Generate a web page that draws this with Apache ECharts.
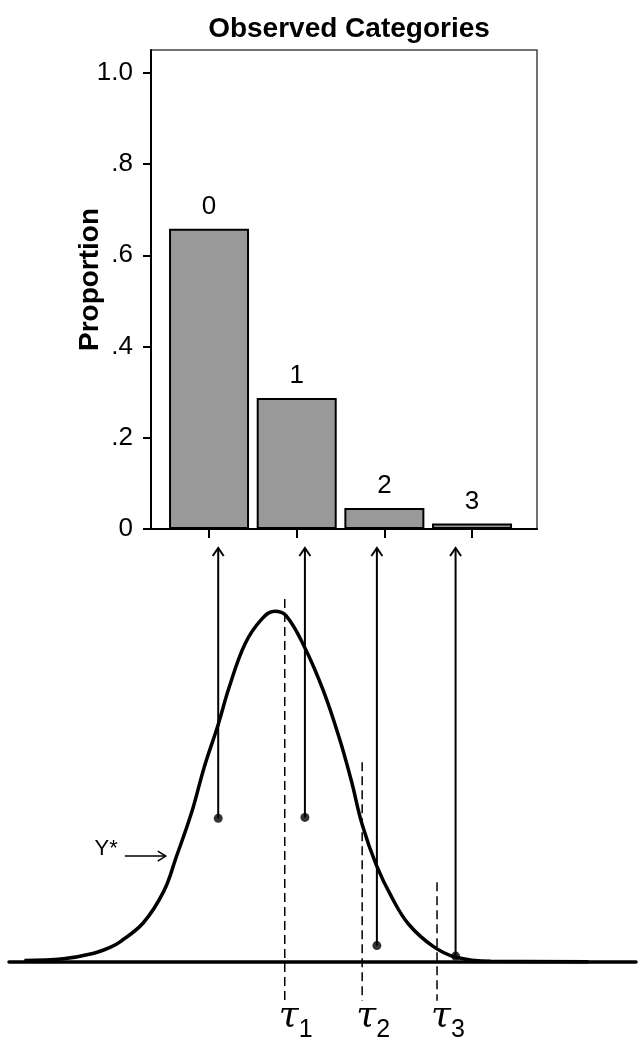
<!DOCTYPE html>
<html>
<head>
<meta charset="utf-8">
<script src="https://cdn.jsdelivr.net/npm/echarts@6/dist/echarts.min.js"></script>
<style>
  html, body { margin: 0; padding: 0; background: #fff; }
  #chart { width: 642px; height: 1050px; }
</style>
</head>
<body>
<div id="chart"></div>
<script>
// top panel: observed category proportions
var categories = ['0', '1', '2', '3']
var proportions = [0.658, 0.287, 0.046, 0.012]
var yTicks = [0, 0.2, 0.4, 0.6, 0.8, 1.0]

// bottom panel: latent Y* density
var curveX = [-3.91, -3.3, -2.84, -2.57, -2.42, -2.05, -1.73, -1.54, -1.29, -1.1, -0.88, -0.71, -0.46, -0.2, 0, 0.18, 0.47, 0.76, 1.01, 1.2, 1.37, 1.59, 1.84, 2.1, 2.48, 2.82, 3.38, 4.91]
var curveY = [0.002, 0.004, 0.010, 0.017, 0.023, 0.045, 0.081, 0.119, 0.172, 0.222, 0.271, 0.313, 0.363, 0.391, 0.4, 0.395, 0.359, 0.31, 0.256, 0.207, 0.157, 0.111, 0.073, 0.043, 0.018, 0.006, 0.001, 0.0005]

// thresholds tau1..tau3
var tauNames = ['1', '2', '3']
var tauX = [0.16, 1.37, 2.54]
var tauTop = [0.414, 0.228, 0.091]
var tauBottom = -0.044

// draws from Y* that map to each category
var drawX = [-0.88, 0.475, 1.6, 2.83]
var drawY = [0.164, 0.165, 0.019, 0.007]
var arrowTop = 0.472

// Y* pointer
var yStarLabel = 'Y*'
var yStarArrow = [-2.34, -1.70, 0.121]

var chart = echarts.init(document.getElementById('chart'))

function fmtProp(v) {
  if (v === 0) return '0'
  if (v === 1) return '1.0'
  return v.toFixed(1).replace(/^0/, '')
}

chart.setOption({
  animation: false,
  backgroundColor: '#fff',
  textStyle: { fontFamily: 'Liberation Sans' },
  title: {
    text: 'Observed Categories',
    left: 344,
    textAlign: 'center',
    top: 10,
    textStyle: { fontSize: 28, fontWeight: 'bold', color: '#000', fontFamily: 'Liberation Sans' }
  },
  grid: [
    { left: 151, top: 50, width: 386, height: 479, show: true, borderColor: '#444', borderWidth: 1.5 },
    { left: 9, width: 627, top: 548, bottom: 0 }
  ],
  xAxis: [{
    gridIndex: 0,
    type: 'value',
    min: -0.662,
    max: 3.741,
    splitLine: { show: false },
    axisLine: { show: true, onZero: false, lineStyle: { color: '#000', width: 2 } },
    axisTick: { show: true, length: 9, customValues: [0, 1, 2, 3], lineStyle: { color: '#000', width: 2 } },
    axisLabel: { show: false }
  }, {
    gridIndex: 1,
    type: 'value',
    min: -4.15,
    max: 5.65,
    splitLine: { show: false },
    axisLine: { show: true, onZero: true, lineStyle: { color: '#000', width: 3.5 } },
    axisTick: { show: false },
    axisLabel: { show: false }
  }],
  yAxis: [{
    gridIndex: 0,
    type: 'value',
    min: 0,
    max: 1.05,
    name: 'Proportion',
    nameLocation: 'middle',
    nameRotate: 90,
    nameGap: 47,
    nameMoveOverlap: false,
    nameTextStyle: { fontSize: 28, fontWeight: 'bold', color: '#000', padding: [0, 0, 0, 20] },
    splitLine: { show: false },
    axisLine: { show: true, onZero: false, lineStyle: { color: '#000', width: 2 } },
    axisTick: { show: true, length: 8, customValues: yTicks, lineStyle: { color: '#000', width: 2 } },
    axisLabel: { fontSize: 26, color: '#000', margin: 18, customValues: yTicks, formatter: fmtProp }
  }, {
    gridIndex: 1,
    type: 'value',
    min: -0.1,
    max: 0.472,
    show: false
  }],
  series: [{
    type: 'bar',
    xAxisIndex: 0,
    yAxisIndex: 0,
    barWidth: 80,
    data: proportions.map(function (p, i) { return [i, p] }),
    itemStyle: { color: '#999999', borderColor: '#000', borderWidth: 2 },
    label: {
      show: true,
      position: 'top',
      distance: 9,
      fontSize: 26,
      color: '#000',
      formatter: function (p) { return categories[p.dataIndex] }
    }
  }, {
    type: 'line',
    xAxisIndex: 1,
    yAxisIndex: 1,
    smooth: 0.4,
    showSymbol: false,
    data: curveX.map(function (x, i) { return [x, curveY[i]] }),
    lineStyle: { color: '#000', width: 3.5 }
  }, {
    type: 'custom',
    xAxisIndex: 1,
    yAxisIndex: 1,
    data: tauX.map(function (x, i) { return [x, tauTop[i], tauBottom, i] }),
    renderItem: function (params, api) {
      var top = api.coord([api.value(0), api.value(1)])
      var bot = api.coord([api.value(0), api.value(2)])
      var name = tauNames[api.value(3)]
      return {
        type: 'group',
        children: [{
          type: 'line',
          shape: { x1: top[0], y1: top[1], x2: bot[0], y2: bot[1] },
          style: { stroke: '#000', lineWidth: 1.5, lineDash: [9, 5] }
        }, {
          type: 'text',
          x: top[0] + 14,
          y: bot[1] + 16,
          style: { text: 'τ', fill: '#000', align: 'right', verticalAlign: 'middle', font: 'italic 36px "DejaVu Serif"' }
        }, {
          type: 'text',
          x: top[0] + 14,
          y: bot[1] + 29,
          style: { text: name, fill: '#000', align: 'left', verticalAlign: 'middle', font: '25px "Liberation Sans"' }
        }]
      }
    }
  }, {
    type: 'custom',
    xAxisIndex: 1,
    yAxisIndex: 1,
    data: drawX.map(function (x, i) { return [x, drawY[i], arrowTop] }),
    renderItem: function (params, api) {
      var p0 = api.coord([api.value(0), api.value(1)])
      var p1 = api.coord([api.value(0), api.value(2)])
      return {
        type: 'group',
        children: [{
          type: 'line',
          shape: { x1: p0[0], y1: p0[1], x2: p1[0], y2: p1[1] },
          style: { stroke: '#000', lineWidth: 2 }
        }, {
          type: 'polyline',
          shape: { points: [[p1[0] - 5.5, p1[1] + 8], [p1[0], p1[1]], [p1[0] + 5.5, p1[1] + 8]] },
          style: { stroke: '#000', lineWidth: 2, fill: null }
        }]
      }
    }
  }, {
    type: 'scatter',
    xAxisIndex: 1,
    yAxisIndex: 1,
    symbolSize: 9,
    data: drawX.map(function (x, i) { return [x, drawY[i]] }),
    itemStyle: { color: '#000' }
  }, {
    type: 'custom',
    xAxisIndex: 1,
    yAxisIndex: 1,
    data: [yStarArrow],
    renderItem: function (params, api) {
      var p0 = api.coord([api.value(0), api.value(2)])
      var p1 = api.coord([api.value(1), api.value(2)])
      return {
        type: 'group',
        children: [{
          type: 'line',
          shape: { x1: p0[0], y1: p0[1], x2: p1[0], y2: p1[1] },
          style: { stroke: '#000', lineWidth: 1.5 }
        }, {
          type: 'polyline',
          shape: { points: [[p1[0] - 8, p1[1] - 5], [p1[0], p1[1]], [p1[0] - 8, p1[1] + 5]] },
          style: { stroke: '#000', lineWidth: 1.5, fill: null }
        }, {
          type: 'text',
          x: p0[0] - 7,
          y: p0[1] - 7,
          style: { text: yStarLabel, fill: '#000', align: 'right', verticalAlign: 'middle', font: '22px "Liberation Sans"' }
        }]
      }
    }
  }]
})
</script>
</body>
</html>
